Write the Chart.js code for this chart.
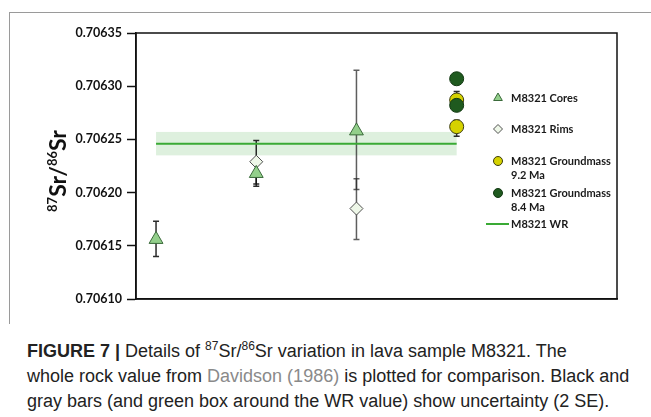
<!DOCTYPE html>
<html>
<head>
<meta charset="utf-8">
<script src="https://cdn.jsdelivr.net/npm/chart.js@4/dist/chart.umd.min.js"></script>
<style>
  body { margin: 0; background: #fff; width: 651px; height: 417px; overflow: hidden; position: relative; }
  #frame { position: absolute; left: 9px; top: 12px; width: 660px; height: 311px; border-left: 1px solid #9a9a9a; border-top: 1px solid #9a9a9a; }
  #wrap { position: absolute; left: 0; top: 0; width: 651px; height: 320px; }
  #caption { position: absolute; left: 27px; top: 339px; width: 624px; white-space: nowrap; font-family: "Liberation Sans", Arial, sans-serif; font-size: 18px; line-height: 25px; color: #222; }
  #caption b { font-weight: bold; }
  #caption sup { font-size: 12px; line-height: 0; vertical-align: 7px; }
  #caption .ref { color: #8a8a8a; }
</style>
</head>
<body>
<div id="frame"></div>
<div id="wrap"><canvas id="canvas" width="651" height="320"></canvas></div>
<div id="caption"><b>FIGURE 7 |</b> Details of <sup>87</sup>Sr/<sup>86</sup>Sr variation in lava sample M8321. The<br>whole rock value from <span class="ref">Davidson (1986)</span> is plotted for comparison. Black and<br>gray bars (and green box around the WR value) show uncertainty (2 SE).</div>
<script>
// sample positions along x (no x labels in the figure)
let coreX = [1, 2, 3];
let coreY = [0.706156, 0.706218, 0.706258];
let coreLo = [0.706140, 0.706206, 0.706203];
let coreHi = [0.706173, 0.706230, 0.706315];

let rimX = [2, 3];
let rimY = [0.706229, 0.706185];
let rimLo = [0.706208, 0.706156];
let rimHi = [0.706249, 0.706213];

let gm92X = [4, 4];
let gm92Y = [0.706287, 0.706262];
let gm92Lo = [0.706280, 0.706253];
let gm92Hi = [0.706295, 0.706268];

let gm84X = [4, 4];
let gm84Y = [0.706307, 0.706282];
let gm84Lo = [0.706304, 0.706279];
let gm84Hi = [0.706310, 0.706285];

// whole rock value (Davidson 1986) and its 2 SE
let wrX = [1, 4];
let wrValue = 0.706246;
let wrErr = 0.000011;

let yTicks = [0.70610, 0.70615, 0.70620, 0.70625, 0.70630, 0.70635];

let legendLabels = [['M8321 Cores'], ['M8321 Rims'], ['M8321 Groundmass', '9.2 Ma'], ['M8321 Groundmass', '8.4 Ma'], ['M8321 WR']];

function pts(xs, ys, lo, hi) {
  return xs.map((x, i) => ({ x: x, y: ys[i], lo: lo ? lo[i] : null, hi: hi ? hi[i] : null }));
}

// green uncertainty box + error bars, drawn behind the markers
const backPlugin = {
  id: 'back',
  beforeDatasetsDraw(chart) {
    const ctx = chart.ctx;
    const xs = chart.scales.x, ys = chart.scales.y;
    ctx.save();
    ctx.fillStyle = 'rgba(160, 212, 160, 0.35)';
    let x0 = xs.getPixelForValue(wrX[0]), x1 = xs.getPixelForValue(wrX[1]);
    let yTop = ys.getPixelForValue(wrValue + wrErr), yBot = ys.getPixelForValue(wrValue - wrErr);
    ctx.fillRect(x0, yTop, x1 - x0, yBot - yTop);

    chart.data.datasets.forEach(ds => {
      if (!ds.errorBars) return;
      ds.data.forEach(p => {
        if (p.lo == null) return;
        let px = xs.getPixelForValue(p.x);
        let a = ys.getPixelForValue(p.hi), b = ys.getPixelForValue(p.lo);
        ctx.strokeStyle = p.x === 3 ? 'rgba(40,40,40,0.75)' : 'rgba(20,20,20,0.9)';
        ctx.lineWidth = 1.5;
        ctx.beginPath();
        ctx.moveTo(px, a); ctx.lineTo(px, b);
        ctx.moveTo(px - 3, a); ctx.lineTo(px + 3, a);
        ctx.moveTo(px - 3, b); ctx.lineTo(px + 3, b);
        ctx.stroke();
      });
    });
    ctx.restore();
  }
};

// plot box, y title with superscripts, and the legend inside the plot
const frontPlugin = {
  id: 'front',
  afterDraw(chart) {
    const ctx = chart.ctx;
    const ca = chart.chartArea;
    ctx.save();
    ctx.strokeStyle = '#111';
    ctx.lineWidth = 1.5;
    ctx.strokeRect(ca.left, ca.top, ca.right - ca.left, ca.bottom - ca.top);

    // y axis title
    ctx.translate(58, 171);
    ctx.rotate(-Math.PI / 2);
    ctx.fillStyle = '#111';
    ctx.textBaseline = 'alphabetic';
    ctx.textAlign = 'left';
    let parts = [['87', true], ['Sr/', false], ['86', true], ['Sr', false]];
    let big = 'bold 23px Lato', small = 'bold 13px Lato';
    let w = 0;
    parts.forEach(p => { ctx.font = p[1] ? small : big; w += ctx.measureText(p[0]).width; });
    let cx = -w / 2;
    parts.forEach(p => {
      ctx.font = p[1] ? small : big;
      ctx.fillText(p[0], cx, p[1] ? -1 : 8);
      cx += ctx.measureText(p[0]).width;
    });
    ctx.restore();

    // legend
    ctx.save();
    const mx = 498, tx = 511;
    const rows = [98, 129, 161, 193, 224];
    ctx.font = 'bold 11px Lato';
    ctx.textBaseline = 'middle';
    legendLabels.forEach((lines, i) => {
      let y = rows[i];
      if (i < 4) {
        let ds = chart.data.datasets[i];
        ctx.fillStyle = ds.backgroundColor;
        ctx.strokeStyle = ds.borderColor;
        ctx.lineWidth = 1;
        Chart.helpers.drawPoint(ctx, { pointStyle: ds.pointStyle, radius: ds.legendRadius, borderWidth: 1, rotation: 0 }, mx, y);
      } else {
        ctx.strokeStyle = '#3aaa35';
        ctx.lineWidth = 2;
        ctx.beginPath(); ctx.moveTo(486, y); ctx.lineTo(509, y); ctx.stroke();
      }
      ctx.fillStyle = '#1a1a1a';
      lines.forEach((t, j) => ctx.fillText(t, tx, y + j * 14));
    });
    ctx.restore();
  }
};

new Chart(document.getElementById('canvas'), {
  type: 'scatter',
  data: {
    datasets: [
      { label: 'M8321 Cores', data: pts(coreX, coreY, coreLo, coreHi), pointStyle: 'triangle', pointRadius: 8, legendRadius: 5,
        backgroundColor: '#93cf8b', borderColor: '#3a6a3a', borderWidth: 1, errorBars: true, order: 3 },
      { label: 'M8321 Rims', data: pts(rimX, rimY, rimLo, rimHi), pointStyle: 'rectRot', pointRadius: 6.5, legendRadius: 4.5,
        backgroundColor: '#eef7e8', borderColor: '#505050', borderWidth: 1, errorBars: true, order: 4 },
      { label: 'M8321 Groundmass 9.2 Ma', data: pts(gm92X, gm92Y, gm92Lo, gm92Hi), pointStyle: 'circle', pointRadius: 7, legendRadius: 4.5,
        backgroundColor: '#d5d200', borderColor: '#3c3c10', borderWidth: 1, errorBars: true, order: 2 },
      { label: 'M8321 Groundmass 8.4 Ma', data: pts(gm84X, gm84Y, gm84Lo, gm84Hi), pointStyle: 'circle', pointRadius: 7, legendRadius: 4.5,
        backgroundColor: '#1f5a1f', borderColor: '#123812', borderWidth: 1, errorBars: true, order: 1 },
      { label: 'M8321 WR', type: 'line', data: wrX.map(x => ({ x: x, y: wrValue })), borderColor: '#3aaa35', borderWidth: 2,
        pointRadius: 0, fill: false, order: 10 }
    ]
  },
  options: {
    responsive: false,
    animation: false,
    events: [],
    layout: { padding: { top: 33, right: 34, bottom: 21, left: 0 } },
    plugins: { legend: { display: false }, tooltip: { enabled: false } },
    scales: {
      x: {
        type: 'linear', min: 0.8, max: 5.6,
        ticks: { display: false },
        grid: { display: false },
        border: { display: true, color: '#111', width: 1.5 },
        afterFit(scale) { scale.height = 0; }
      },
      y: {
        type: 'linear', min: 0.70610, max: 0.70635,
        afterBuildTicks(scale) { scale.ticks = yTicks.map(v => ({ value: v })); },
        ticks: {
          color: '#111', padding: 5,
          font: { family: 'Lato', weight: 'bold', size: 12.5 },
          callback: v => v.toFixed(5)
        },
        grid: { drawOnChartArea: false, drawTicks: true, tickLength: 9, tickColor: '#111', tickWidth: 1.5 },
        border: { display: true, color: '#111', width: 1.5 },
        afterFit(scale) { scale.width = 136; }
      }
    }
  },
  plugins: [backPlugin, frontPlugin]
});
</script>
</body>
</html>
